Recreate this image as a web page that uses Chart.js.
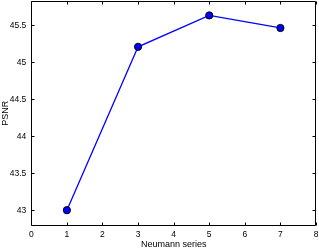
<!DOCTYPE html>
<html>
<head>
<meta charset="utf-8">
<script src="https://cdn.jsdelivr.net/npm/chart.js@4/dist/chart.umd.min.js"></script>
<style>
html,body{margin:0;padding:0;background:#fff;}
#wrap{width:319px;height:250px;position:relative;}
</style>
</head>
<body>
<div id="wrap"><canvas id="c" width="319" height="250"></canvas></div>
<script>
const neumannSeries = [1, 3, 5, 7];
const psnrValues = [43.00, 45.21, 45.635, 45.465];
const xTickValues = [0, 1, 2, 3, 4, 5, 6, 7, 8];
const yTickValues = [43, 43.5, 44, 44.5, 45, 45.5];
const xTitle = 'Neumann series';
const yTitle = 'PSNR';

const FONT = 'Liberation Sans, Arial, Helvetica, sans-serif';

const boxPlugin = {
  id: 'matlabBox',
  afterDraw(chart) {
    const {ctx, chartArea: a, scales} = chart;
    ctx.save();
    ctx.strokeStyle = '#000';
    ctx.lineWidth = 1;
    const L = Math.round(a.left) + 0.5, R = Math.round(a.right) - 0.5;
    const T = Math.round(a.top) + 0.5, B = Math.round(a.bottom) - 0.5;
    ctx.beginPath();
    ctx.rect(L, T, R - L, B - T);
    ctx.stroke();
    const tl = 3;
    ctx.beginPath();
    scales.x.ticks.forEach(t => {
      const px = Math.round(scales.x.getPixelForValue(t.value)) + 0.5;
      ctx.moveTo(px, B); ctx.lineTo(px, B - tl);
      ctx.moveTo(px, T); ctx.lineTo(px, T + tl);
    });
    scales.y.ticks.forEach(t => {
      const py = Math.round(scales.y.getPixelForValue(t.value)) + 0.5;
      ctx.moveTo(L, py); ctx.lineTo(L + tl, py);
      ctx.moveTo(R, py); ctx.lineTo(R - tl, py);
    });
    ctx.stroke();
    ctx.restore();
  }
};

function zeroPad(s) { s.paddingTop = 0; s.paddingBottom = 0; s.paddingLeft = 0; s.paddingRight = 0; }

new Chart(document.getElementById('c'), {
  type: 'scatter',
  data: {
    datasets: [{
      data: neumannSeries.map((x, i) => ({x: x, y: psnrValues[i]})),
      showLine: true,
      borderColor: '#0000ff',
      borderWidth: 1.3,
      backgroundColor: '#0000ff',
      pointBackgroundColor: '#0000ff',
      pointBorderColor: '#000000',
      pointBorderWidth: 1,
      pointRadius: 3.6,
      clip: false
    }]
  },
  options: {
    responsive: false,
    animation: false,
    devicePixelRatio: 1,
    layout: {autoPadding: false, padding: {left: 0, right: 3, top: 1, bottom: 0}},
    plugins: {legend: {display: false}, tooltip: {enabled: false}},
    scales: {
      x: {
        type: 'linear',
        min: 0, max: 8,
        afterBuildTicks: s => { s.ticks = xTickValues.map(v => ({value: v})); },
        afterFit: s => { s.height = 24.3; zeroPad(s); },
        grid: {display: false, drawTicks: false},
        border: {display: false},
        ticks: {
          padding: 4,
          color: '#000',
          font: {family: FONT, size: 8.5},
          callback: v => String(v),
          maxRotation: 0
        },
        title: {display: true, text: xTitle, color: '#000', font: {family: FONT, size: 9}, padding: 0}
      },
      y: {
        type: 'linear',
        min: 42.79, max: 45.83,
        afterBuildTicks: s => { s.ticks = yTickValues.map(v => ({value: v})); },
        afterFit: s => { s.width = 31.3; zeroPad(s); },
        grid: {display: false, drawTicks: false},
        border: {display: false},
        ticks: {
          padding: 5,
          color: '#000',
          font: {family: FONT, size: 8.5},
          callback: v => String(v)
        },
        title: {display: true, text: yTitle, color: '#000', font: {family: FONT, size: 9}, padding: 0}
      }
    }
  },
  plugins: [boxPlugin]
});
</script>
</body>
</html>
